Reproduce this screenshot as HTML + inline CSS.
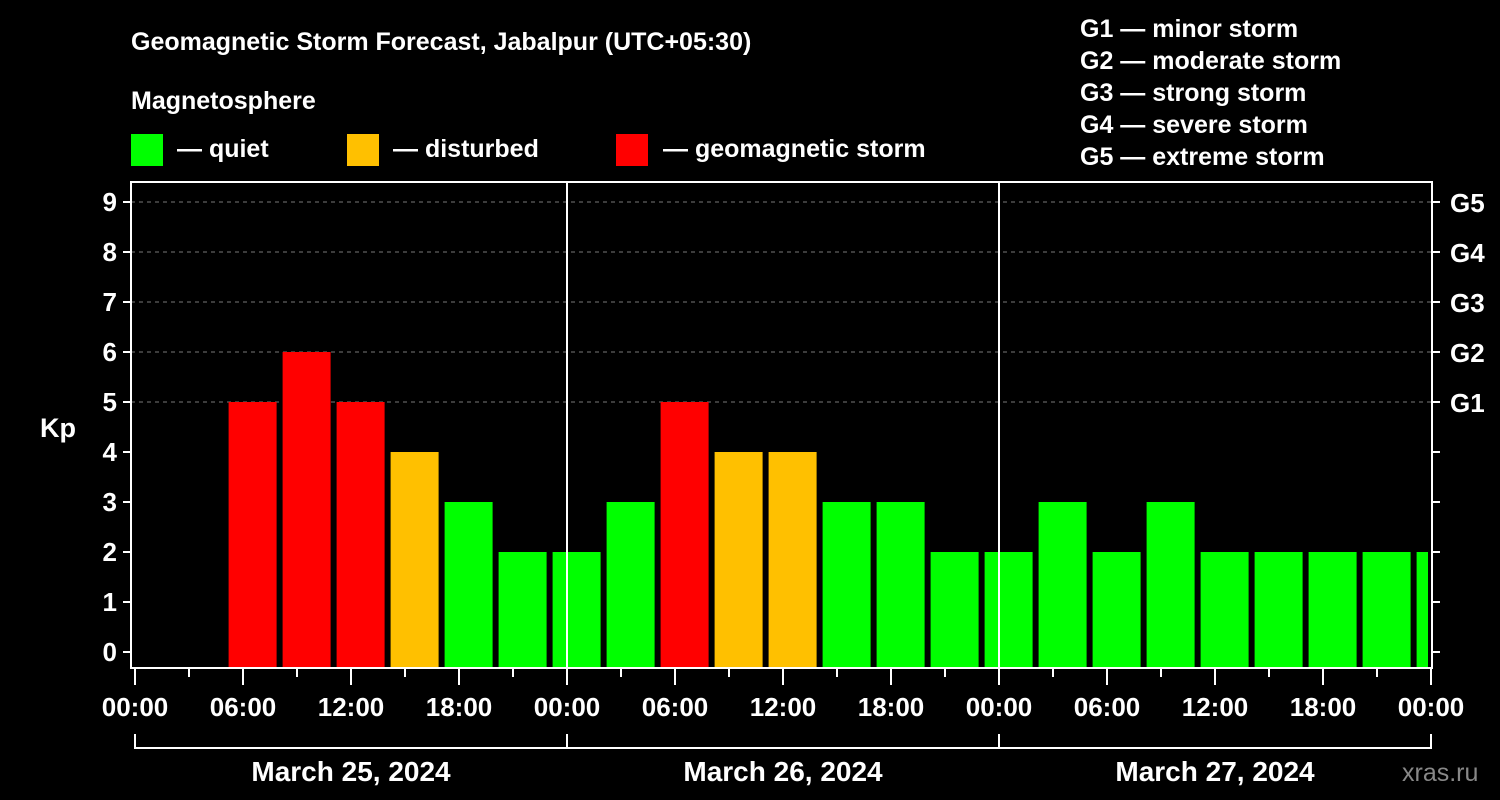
<!DOCTYPE html>
<html><head><meta charset="utf-8">
<style>
html,body{margin:0;padding:0;background:#000;}
svg{display:block;font-family:"Liberation Sans",Arial,sans-serif;font-weight:bold;}
</style></head>
<body>
<svg id="chart" width="1500" height="800" viewBox="0 0 1500 800">
<rect x="0" y="0" width="1500" height="800" fill="#000"/>
<text x="131" y="50" fill="#fff" font-size="25">Geomagnetic Storm Forecast, Jabalpur (UTC+05:30)</text>
<text x="131" y="109" fill="#fff" font-size="25">Magnetosphere</text>
<g>
<rect x="131" y="134" width="32" height="32" fill="#00ff00"/>
<text x="177" y="157" fill="#fff" font-size="25">— quiet</text></g>
<g>
<rect x="347" y="134" width="32" height="32" fill="#ffc000"/>
<text x="393" y="157" fill="#fff" font-size="25">— disturbed</text></g>
<g>
<rect x="616" y="134" width="32" height="32" fill="#ff0000"/>
<text x="663" y="157" fill="#fff" font-size="25">— geomagnetic storm</text></g>
<g fill="#fff" font-size="25">
<text x="1080" y="37">G1 — minor storm</text>
<text x="1080" y="69">G2 — moderate storm</text>
<text x="1080" y="101">G3 — strong storm</text>
<text x="1080" y="133">G4 — severe storm</text>
<text x="1080" y="165">G5 — extreme storm</text>
</g>
<g id="grid"></g>
<g id="bars"></g>
<g id="axes"></g>
<text x="40" y="437" fill="#fff" font-size="27">Kp</text>
<text x="1402" y="781" fill="#888" font-size="25" font-weight="normal">xras.ru</text>
</svg>
<script>
const kpValues = [5,6,5,4,3,2,2,3,5,4,4,3,3,2,2,3,2,3,2,2,2,2,2];
const yTicks = [0,1,2,3,4,5,6,7,8,9];
const gLabels = ["G1","G2","G3","G4","G5"];
const hourLabels = ["00:00","06:00","12:00","18:00"];
const dayLabels = ["March 25, 2024","March 26, 2024","March 27, 2024"];
const firstSlotHour = 5.2;

const NS="http://www.w3.org/2000/svg";
const X0=135, PX_H=18, Y0=652, PX_K=50, LEFT=131, RIGHT=1432, TOP=182, BOTTOM=668;
const xs=h=>X0+h*PX_H, ys=k=>Y0-k*PX_K;
function mk(tag,attrs,parent){const e=document.createElementNS(NS,tag);for(const k in attrs)e.setAttribute(k,attrs[k]);parent.appendChild(e);return e;}
const grid=document.getElementById('grid'), bars=document.getElementById('bars'), axes=document.getElementById('axes');

gLabels.forEach((g,i)=>{
  const l=mk('line',{x1:LEFT,x2:RIGHT,y1:ys(5+i),y2:ys(5+i),stroke:'#777','stroke-dasharray':'4,4','stroke-width':1},grid);
  
  
  const t=mk('text',{x:1450,y:ys(5+i)+10,fill:'#fff','font-size':26},axes);
  t.textContent=g;
  
  
});

function color(k){return k>=5?'#ff0000':(k>=4?'#ffc000':'#00ff00');}
kpValues.forEach((k,i)=>{
  const x=xs(firstSlotHour+3*i);
  const w=Math.min(48, RIGHT-4-x);
  const r=mk('rect',{x:x,y:ys(k),width:w,height:BOTTOM-ys(k),fill:color(k)},bars);
  
  
});

mk('rect',{x:LEFT,y:TOP,width:RIGHT-LEFT,height:BOTTOM-TOP,fill:'none',stroke:'#fff','stroke-width':2},axes);
for(let d=1;d<3;d++){mk('line',{x1:xs(24*d),x2:xs(24*d),y1:TOP,y2:BOTTOM,stroke:'#fff','stroke-width':2},axes);}

yTicks.forEach(k=>{
  mk('line',{x1:LEFT-8,x2:LEFT,y1:ys(k),y2:ys(k),stroke:'#fff','stroke-width':2},axes);
  mk('line',{x1:RIGHT,x2:RIGHT+8,y1:ys(k),y2:ys(k),stroke:'#fff','stroke-width':2},axes);
  const t=mk('text',{x:LEFT-14,y:ys(k)+9,fill:'#fff','font-size':26,'text-anchor':'end'},axes);
  t.textContent=k;
  
  
});

for(let h=0;h<=72;h+=3){
  const major=h%6===0;
  mk('line',{x1:xs(h),x2:xs(h),y1:BOTTOM,y2:BOTTOM+(major?17:9),stroke:'#fff','stroke-width':2},axes);
  if(major){
    const t=mk('text',{x:xs(h),y:716,fill:'#fff','font-size':26,'text-anchor':'middle'},axes);
    t.textContent=hourLabels[(h/6)%4];
    
    
  }
}
dayLabels.forEach((d,i)=>{
  const a=xs(24*i), b=xs(24*(i+1));
  mk('path',{d:`M${a} 734 V748 H${b} V734`,fill:'none',stroke:'#fff','stroke-width':2},axes);
  const t=mk('text',{x:(a+b)/2,y:781,fill:'#fff','font-size':28,'text-anchor':'middle'},axes);
  t.textContent=d;
  
  
});
</script>
</body></html>
